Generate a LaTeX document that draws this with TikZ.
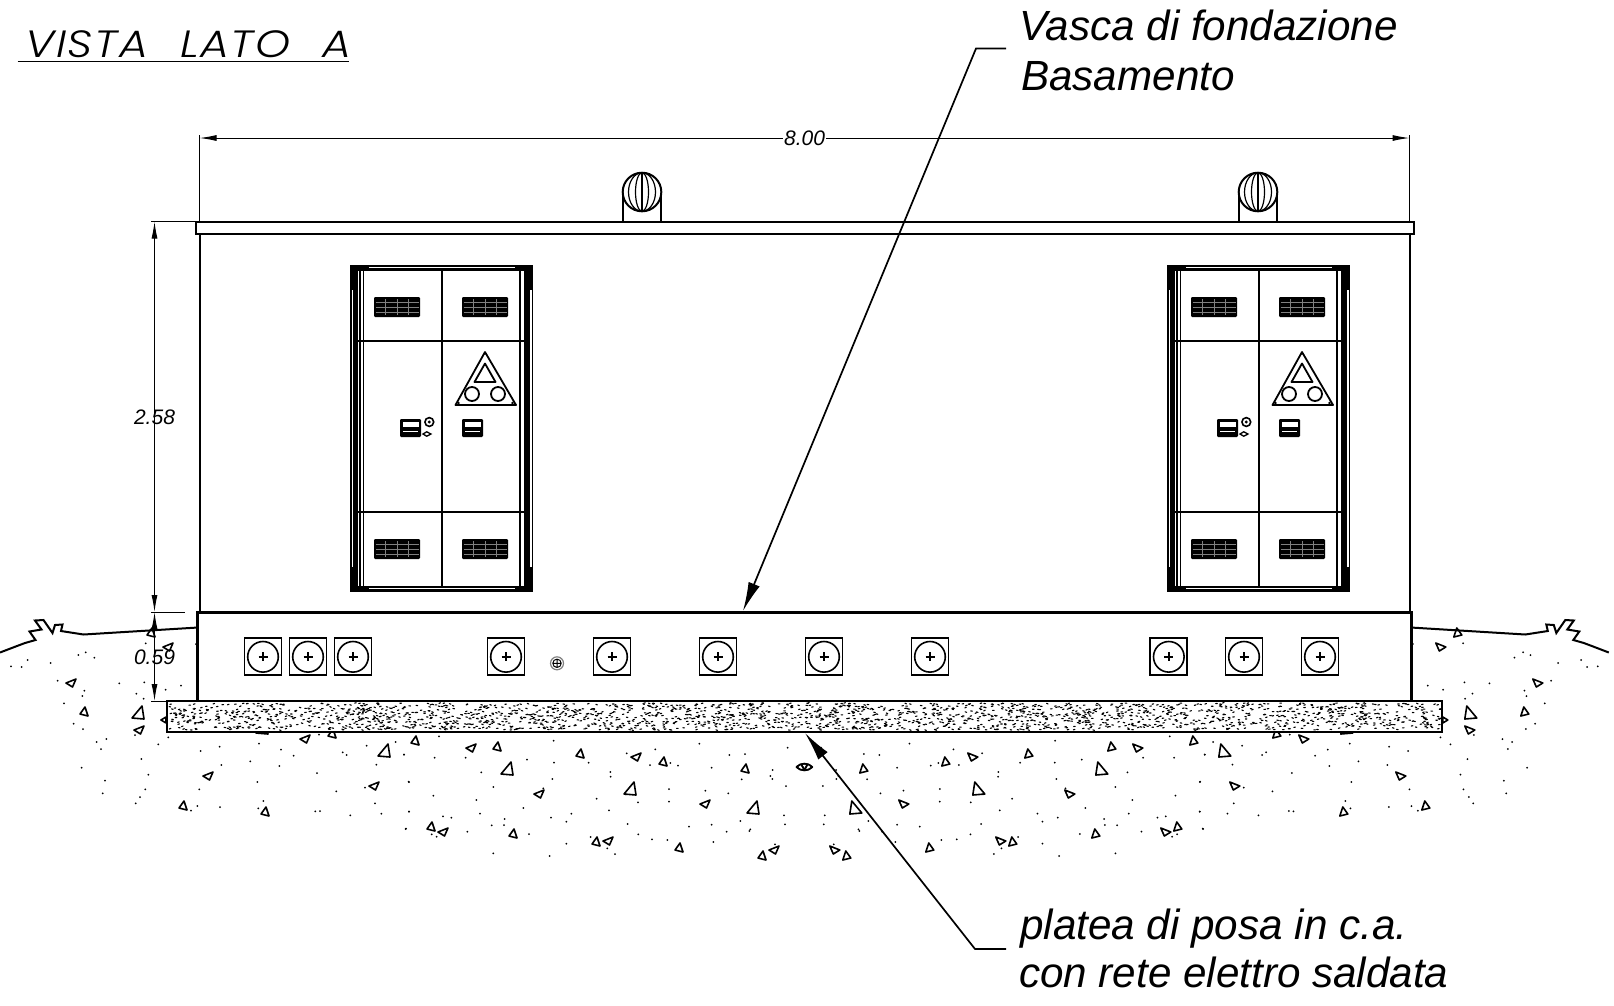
\documentclass[tikz,border=0pt]{standalone}
\usepackage{fontspec}
\setmainfont{Liberation Sans}
\newfontfamily\viewfont[WordSpace=2.2,LetterSpace=4,FakeStretch=1.17]{Poppins Light Italic}
\usetikzlibrary{arrows.meta}
\tikzset{
    thinline/.style={line width=1.2pt},
    wall/.style={line width=2pt},
    soil/.style={line width=1.6pt,line join=round},
    dimline/.style={line width=1pt,{Latex[length=17pt,width=6pt]}-{Latex[length=17pt,width=6pt]}},
    dimtick/.style={line width=1pt},
    dimtext/.style={font=\itshape\fontsize{21}{25}\selectfont,inner sep=1pt},
    leader/.style={line width=1.7pt,-{Latex[length=29pt,width=12pt]}},
    calltext/.style={font=\itshape\fontsize{42.2}{50}\selectfont,anchor=base west,inner sep=0pt},
}
\begin{document}
\begin{tikzpicture}[x=1pt,y=-1pt]
    \useasboundingbox (0,0) rectangle (1614,1005);
    \def\soilmarks{%
        \draw [wall](0,652.5)--(17,646)--(25,643)--(35.5,640)--(29.5,631.5)--(41.5,629.5)--(35,620.5)--(43.5,620)--(52.5,633)--(55,625)--(62.5,624.5)--(61,631)--(83.5,634.5)--(198,627.5);
        \foreach \x/\y in {33/229,65/231,83/210,152/219,235/195,257/187,283/203,173/272,253/302,247/318,192/340,221/401,249/417,290/456,319/447,303/477,245/533,315/572,308/610,407/640,420/621,436/598,445/554,424/507,405/435,475/463,505/442,358/280,433/277,409/311,431/326,437/160,497/299,543/287,588/162,602/483,659/470,777/461,843/479,881/497,664/525,751/514,838/528,772/576,598/598,592/648,573/662,660/651,790/633,775/655,946/664,960/663,1051/676,1144/671,1125/640,1009/604,951/549,1095/593,1227/576,1227/665,1129/524,1212/494,1187/456,1100/467,1028/487,1040/495,957/434,1218/716}
            \fill (\x/3,590+\y/3) circle (1);
        \foreach \x/\y in {117/34,12/89,104/98,197/98,244/142,26/170,100/212,229/225,280/186,381/104,462/113,461/47,457/162,430/190,370/249,27/260,129/274,154/278,240/266,314/282,312/300,275/301,17/312,95/328,110/335,202/320,387/327,280/385,449/393,499/356,453/278,499/290,514/266,590/221,627/256,566/113,631/141,632/155,680/85,766/73,750/120,811/114,834/122,898/56,935/128,988/90,1035/87,1163/68,1118/135,1111/153,1117/162,1025/163,1158/183,985/205,916/197,807/192,807/230,714/232,677/208,683/297,715/328,756/343,802/345,867/305,935/299,980/320,1021/288,1051/313,1048/318,1152/271,1155/298,940/351,1125/358,572/336,622/370,645/387}
            \fill (400+\x/3,725+\y/3) circle (1);
        % petits triangles vers la gauche
        \foreach \x/\y in {71/683,139/730,168/647,305/739,208/776,374/786,471/748,539/794,636/757,705/804,443/832,608/841,774/850}
            \draw [soil,shift={(\x,\y)}](-5,0)--(5,-4)--(1.5,4)--cycle;
        % petits triangles vers le haut
        \foreach \x/\y in {84/712,151/633,332/734,415/741,497/747,183/806,265/812,580/754,663/762,745/769,431/827,513/834,596/842,679/848,762/856}
            \draw [soil,shift={(\x,\y)}](1,-5)--(-4,2)--(4,4)--cycle;
        % grands triangles
        \foreach \x/\y in {138/713,384/751,507/769,630/789,753/808}
            \draw [soil,shift={(\x,\y)}](4,-7)--(-6,5)--(6,6)--cycle;
        \draw [soil,shift={(261,730)}](-6,-3)--(-5,3)--(7,4)--(6,-3);
        \draw [soil](796.4,767) .. controls (801,762.5) and (808,762.5) .. (812.4,767) .. controls (808,771.5) and (801,771.5) .. (796.4,767);
        \draw [soil](801.4,764.5)--(804.4,770)--(807.4,764.5);
        \draw [soil](166,717)--(166,723)--(161,720)--cycle;
    }
    \soilmarks
    \begin{scope}[cm={-1,0,0,1,(1608.8,0)}]
        \soilmarks
    \end{scope}

    % batiment
    \draw [wall,fill=white](199.5,233)rectangle(1409.5,612);
    \draw [wall,fill=white](195.5,221.5)rectangle(1413.5,233.5);
    \foreach \vx in {642,1258}{
        \begin{scope}[shift={(\vx,0)}]
            \draw [wall,fill=white](-19.3,192)--(-19.3,221.5)--(19.3,221.5)--(19.3,192);
            \draw [wall,fill=white](0,192)circle(19.3);
            \draw [thinline](0,192)ellipse(13.5 and 19.3);
            \draw [thinline](0,192)ellipse(6.5 and 19.3);
            \draw [thinline](0,172.7)--(0,211.3);
        \end{scope}
    }
    \draw [line width=2.4pt,fill=white](197.5,612.5)rectangle(1411.5,701);
    \draw [line width=2.2pt,fill=white](166.7,701)rectangle(1442.3,731.7);
    \pgfmathsetseed{7}
    \foreach \i in {1,...,2300}{
        \pgfmathsetmacro\sx{169+1271*rnd}
        \pgfmathsetmacro\sy{703+27*rnd}
        \pgfmathsetmacro\sa{-25+50*rnd}
        \draw [line width=1.1pt,line cap=round] (\sx,\sy) -- ++(\sa:1.6);
    }

    % portes
    \foreach \dx in {0,817}{
        \begin{scope}[xshift=\dx pt]
            \fill (350,265)rectangle(533.3,591.7);
            \fill [white](358.3,270.7)rectangle(525,586);
            \fill [white](351.7,290)rectangle(353.3,566.7);
            \fill [white](530,290)rectangle(531.7,566.7);
            \fill [white](369.3,266.7)rectangle(515,268.3);
            \fill [white](369.3,587.7)rectangle(515,589.3);
            \draw [thinline](360,270.7)--(360,586) (363.5,270.7)--(363.5,586);
            \draw [thinline](520,270.7)--(520,586) (524.5,270.7)--(524.5,586);
            \draw [line width=1.7pt](441.7,270.7)--(441.7,586);
            \draw [line width=1.7pt](358.3,340.7)--(525,340.7) (358.3,512)--(525,512);
            % grilles
            \foreach \gx in {374,462}{
                \foreach \gy in {297,539}{
                    \fill [rounded corners=1.2pt](\gx,\gy)rectangle(\gx+46,\gy+20);
                    \foreach \k in {5,10,15}
                        \draw [gray,line width=.6pt](\gx+1.5,\gy+\k)--(\gx+44.5,\gy+\k);
                    \foreach \k in {11.5,23,34.5}
                        \draw [gray,line width=.5pt](\gx+\k,\gy+2)--(\gx+\k,\gy+18);
                }
            }
            % triangle
            \draw [line width=1.8pt,line join=round](485,352)--(455.5,405)--(516,405)--cycle;
            \draw [line width=1.8pt,line join=round](485,363.5)--(474.5,382)--(495.5,382)--cycle;
            \draw [line width=1.8pt](472,394)circle(7) (498,394)circle(7);
            \fill (485,353.5)circle(1.4) (458.5,403)circle(1.4) (512.5,403)circle(1.4);
            % serrures
            \foreach \lx in {400,462}{
                \fill [rounded corners=1.2pt](\lx,419)rectangle(\lx+21,437);
                \fill [white](\lx+2.5,421.5)rectangle(\lx+18.5,427);
                \draw [white,line width=.4pt](\lx+3,431)--(\lx+17.5,431);
            }
            \draw [line width=1.6pt](429.3,422)circle(4.4);
            \fill (429.3,422)circle(1.6);
            \draw [line width=1.3pt](423,434)--(426.7,431.8)--(431,434)--(426.7,436.2)--cycle;
        \end{scope}
    }

    % carres du basamento
    \foreach \cx in {263,308,353,506,612,718,824,930,1168.8,1244,1320}{
        \draw [line width=1.7pt](\cx-18.5,638.3)rectangle(\cx+18.5,675.3);
        \draw [line width=1.6pt](\cx,656.8)circle(15.3);
        \draw [line width=1.6pt](\cx-4.5,656.8)--(\cx+4.5,656.8) (\cx,652.3)--(\cx,661.3);
    }
    \draw [thinline,gray](557,663.3)circle(6.5);
    \draw [line width=1pt](557,663.3)circle(4.2) (552.8,663.3)--(561.2,663.3) (557,659.1)--(557,667.5);

    % cotes
    \coordinate (lenA) at (199.5,138);
    \coordinate (lenB) at (1409.5,138);
    \coordinate (highA) at (154.5,221.5);
    \coordinate (highB) at (154.5,612);
    \coordinate (baseB) at (154.5,701);
    \draw [dimtick](199.5,135)--(199.5,221) (1409.5,135)--(1409.5,221);
    \draw [dimtick](151,221.5)--(196,221.5) (151,612)--(185,612) (151,701)--(167,701);
    \draw [dimline](lenA)--(lenB) node [midway,fill=white,dimtext] (lenlabel) {8.00};
    \draw [dimline](highA)--(highB);
    \draw [dimline](highB)--(baseB);
    \node [dimtext] (highlabel) at (154.5,417) {2.58};
    \node [dimtext] (baselabel) at (154.5,657) {0.59};

    % titre
    \node [font=\viewfont\fontsize{38}{44}\selectfont,anchor=base west,inner sep=0pt] (viewlabel) at (25,57) {VISTA LATO A};
    \coordinate (viewA) at (17.5,61.5);
    \coordinate (viewB) at (348.5,61.5);
    \draw [line width=1.7pt](viewA)--(viewB);

    % legendes
    \node [calltext] (vasca) at (1019,40) {Vasca di fondazione};
    \node [calltext] (basamento) at (1021,90) {Basamento};
    \node [calltext] (platea) at (1020,939) {platea di posa in c.a.};
    \node [calltext] (rete) at (1019,987) {con rete elettro saldata};
    \coordinate (topstart) at (1006,48.5);
    \coordinate (topbend) at (976,48.5);
    \coordinate (toptip) at (743,611);
    \coordinate (lowstart) at (1006,949);
    \coordinate (lowbend) at (975,949);
    \coordinate (lowtip) at (805,733);
    \draw [leader](topstart)--(topbend)--(toptip);
    \draw [leader](lowstart)--(lowbend)--(lowtip);
\end{tikzpicture}
\end{document}
